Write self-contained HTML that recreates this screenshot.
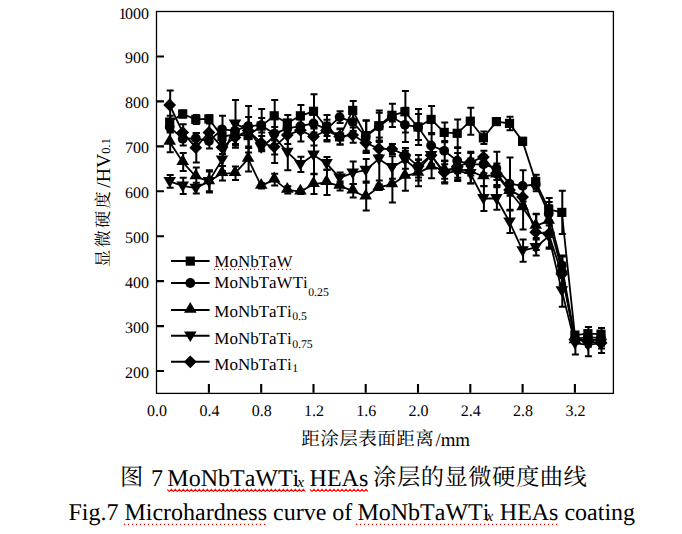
<!DOCTYPE html>
<html><head><meta charset="utf-8"><title>Fig.7</title>
<style>
html,body{margin:0;padding:0;background:#fff;}
text{font-kerning:none;font-variant-ligatures:none;text-rendering:geometricPrecision}
body{width:682px;height:534px;overflow:hidden;position:relative;font-family:"Liberation Serif",serif;}
</style></head><body>
<svg width="682" height="534" viewBox="0 0 682 534" style="display:block;position:absolute;left:0;top:0">
<rect width="682" height="534" fill="#fff"/>
<rect x="156.5" y="11.5" width="456.9" height="381.9" fill="none" stroke="#000" stroke-width="1.3"/>
<path stroke="#000" stroke-width="2.1" fill="none" d="M156.5 371.0H164M156.5 326.1H164M156.5 281.1H164M156.5 236.2H164M156.5 191.3H164M156.5 146.4H164M156.5 101.4H164M156.5 56.5H164M208.9 392.7V384M261.2 392.7V384M313.5 392.7V384M365.7 392.7V384M418.0 392.7V384M470.3 392.7V384M522.6 392.7V384M574.9 392.7V384"/>
<g font-family="'Liberation Serif', serif" font-size="16" fill="#000">
<text x="149" y="377.9" text-anchor="end">200</text>
<text x="149" y="333.0" text-anchor="end">300</text>
<text x="149" y="288.0" text-anchor="end">400</text>
<text x="149" y="243.1" text-anchor="end">500</text>
<text x="149" y="198.2" text-anchor="end">600</text>
<text x="149" y="153.3" text-anchor="end">700</text>
<text x="149" y="108.3" text-anchor="end">800</text>
<text x="149" y="63.4" text-anchor="end">900</text>
<text x="149" y="18.5" text-anchor="end">000</text><text x="126.5" y="18.5" text-anchor="end">1</text>
<text x="157.1" y="416.3" text-anchor="middle">0.0</text>
<text x="209.4" y="416.3" text-anchor="middle">0.4</text>
<text x="261.7" y="416.3" text-anchor="middle">0.8</text>
<text x="314.0" y="416.3" text-anchor="middle">1.2</text>
<text x="366.2" y="416.3" text-anchor="middle">1.6</text>
<text x="418.5" y="416.3" text-anchor="middle">2.0</text>
<text x="470.8" y="416.3" text-anchor="middle">2.4</text>
<text x="523.1" y="416.3" text-anchor="middle">2.8</text>
<text x="575.4" y="416.3" text-anchor="middle">3.2</text>
</g>
<polyline fill="none" stroke="#000" stroke-width="1.80" stroke-linejoin="round" points="169.7,122.1 182.7,114.0 195.8,119.4 208.9,118.9 222.0,136.5 235.0,134.7 248.1,135.6 261.2,126.1 274.2,115.8 287.3,123.0 300.4,115.8 313.5,111.3 326.5,127.5 339.6,136.9 352.7,110.4 365.7,135.6 378.8,125.7 391.9,115.3 404.9,111.8 418.0,127.0 431.1,119.4 444.2,132.4 457.2,133.3 470.3,121.2 483.4,137.8 496.4,121.6 509.5,123.4 522.6,141.4 535.7,181.8 548.7,209.3 561.8,212.4 574.9,335.1 587.9,333.7 601.0,334.2"/>
<path fill="none" stroke="#000" stroke-width="2.00" d="M170.2 115.8V128.4M166.7 115.8H173.7M166.7 128.4H173.7M183.2 110.4V117.6M179.7 110.4H186.7M179.7 117.6H186.7M196.3 114.9V123.9M192.8 114.9H199.8M192.8 123.9H199.8M209.4 115.3V122.5M205.9 115.3H212.9M205.9 122.5H212.9M222.5 131.1V141.9M219.0 131.1H226.0M219.0 141.9H226.0M235.5 123.9V145.5M232.0 123.9H239.0M232.0 145.5H239.0M248.6 123.0V148.1M245.1 123.0H252.1M245.1 148.1H252.1M261.7 109.1V143.2M258.2 109.1H265.2M258.2 143.2H265.2M274.7 100.1V131.5M271.2 100.1H278.2M271.2 131.5H278.2M287.8 114.9V131.1M284.3 114.9H291.3M284.3 131.1H291.3M300.9 105.0V126.6M297.4 105.0H304.4M297.4 126.6H304.4M314.0 94.2V128.4M310.5 94.2H317.5M310.5 128.4H317.5M327.0 114.9V140.1M323.5 114.9H330.5M323.5 140.1H330.5M340.1 129.3V144.6M336.6 129.3H343.6M336.6 144.6H343.6M353.2 101.0V119.8M349.7 101.0H356.7M349.7 119.8H356.7M366.2 120.3V150.8M362.7 120.3H369.7M362.7 150.8H369.7M379.3 110.4V141.0M375.8 110.4H382.8M375.8 141.0H382.8M392.4 103.7V127.0M388.9 103.7H395.9M388.9 127.0H395.9M405.4 91.1V132.4M401.9 91.1H408.9M401.9 132.4H408.9M418.5 109.1V145.0M415.0 109.1H422.0M415.0 145.0H422.0M431.6 105.9V132.9M428.1 105.9H435.1M428.1 132.9H435.1M444.7 122.5V142.3M441.2 122.5H448.2M441.2 142.3H448.2M457.7 119.4V147.2M454.2 119.4H461.2M454.2 147.2H461.2M470.8 107.7V134.7M467.3 107.7H474.3M467.3 134.7H474.3M483.9 131.5V144.1M480.4 131.5H487.4M480.4 144.1H487.4M496.9 119.4V123.9M493.4 119.4H500.4M493.4 123.9H500.4M510.0 116.7V130.2M506.5 116.7H513.5M506.5 130.2H513.5M523.1 137.8V145.0M519.6 137.8H526.6M519.6 145.0H526.6M536.2 174.7V189.0M532.7 174.7H539.7M532.7 189.0H539.7M549.2 198.0V220.5M545.7 198.0H552.7M545.7 220.5H552.7M562.3 190.8V234.0M558.8 190.8H565.8M558.8 234.0H565.8M575.4 331.9V338.2M571.9 331.9H578.9M571.9 338.2H578.9M588.4 327.0V340.4M584.9 327.0H591.9M584.9 340.4H591.9M601.5 327.9V340.4M598.0 327.9H605.0M598.0 340.4H605.0"/>
<g fill="#000"><rect x="165.1" y="117.5" width="9.2" height="9.2"/><rect x="178.1" y="109.4" width="9.2" height="9.2"/><rect x="191.2" y="114.8" width="9.2" height="9.2"/><rect x="204.3" y="114.3" width="9.2" height="9.2"/><rect x="217.4" y="131.9" width="9.2" height="9.2"/><rect x="230.4" y="130.1" width="9.2" height="9.2"/><rect x="243.5" y="131.0" width="9.2" height="9.2"/><rect x="256.6" y="121.5" width="9.2" height="9.2"/><rect x="269.6" y="111.2" width="9.2" height="9.2"/><rect x="282.7" y="118.4" width="9.2" height="9.2"/><rect x="295.8" y="111.2" width="9.2" height="9.2"/><rect x="308.9" y="106.7" width="9.2" height="9.2"/><rect x="321.9" y="122.9" width="9.2" height="9.2"/><rect x="335.0" y="132.3" width="9.2" height="9.2"/><rect x="348.1" y="105.8" width="9.2" height="9.2"/><rect x="361.1" y="131.0" width="9.2" height="9.2"/><rect x="374.2" y="121.1" width="9.2" height="9.2"/><rect x="387.3" y="110.7" width="9.2" height="9.2"/><rect x="400.3" y="107.2" width="9.2" height="9.2"/><rect x="413.4" y="122.4" width="9.2" height="9.2"/><rect x="426.5" y="114.8" width="9.2" height="9.2"/><rect x="439.6" y="127.8" width="9.2" height="9.2"/><rect x="452.6" y="128.7" width="9.2" height="9.2"/><rect x="465.7" y="116.6" width="9.2" height="9.2"/><rect x="478.8" y="133.2" width="9.2" height="9.2"/><rect x="491.8" y="117.0" width="9.2" height="9.2"/><rect x="504.9" y="118.8" width="9.2" height="9.2"/><rect x="518.0" y="136.8" width="9.2" height="9.2"/><rect x="531.1" y="177.2" width="9.2" height="9.2"/><rect x="544.1" y="204.7" width="9.2" height="9.2"/><rect x="557.2" y="207.8" width="9.2" height="9.2"/><rect x="570.3" y="330.5" width="9.2" height="9.2"/><rect x="583.3" y="329.1" width="9.2" height="9.2"/><rect x="596.4" y="329.6" width="9.2" height="9.2"/></g>
<polyline fill="none" stroke="#000" stroke-width="1.80" stroke-linejoin="round" points="169.7,127.0 182.7,138.7 195.8,138.3 208.9,141.0 222.0,129.3 235.0,130.6 248.1,126.1 261.2,125.2 274.2,133.8 287.3,128.4 300.4,126.1 313.5,123.4 326.5,129.3 339.6,117.1 352.7,122.1 365.7,136.5 378.8,126.6 391.9,117.1 404.9,124.8 418.0,127.0 431.1,145.5 444.2,150.8 457.2,160.7 470.3,164.3 483.4,164.3 496.4,168.4 509.5,183.6 522.6,185.9 535.7,184.5 548.7,213.7 561.8,265.4 574.9,338.7 587.9,337.3 601.0,337.8"/>
<path fill="none" stroke="#000" stroke-width="2.00" d="M170.2 121.6V132.4M166.7 121.6H173.7M166.7 132.4H173.7M183.2 132.0V145.5M179.7 132.0H186.7M179.7 145.5H186.7M196.3 132.9V143.7M192.8 132.9H199.8M192.8 143.7H199.8M209.4 133.3V148.6M205.9 133.3H212.9M205.9 148.6H212.9M222.5 115.8V142.8M219.0 115.8H226.0M219.0 142.8H226.0M235.5 123.9V137.4M232.0 123.9H239.0M232.0 137.4H239.0M248.6 117.1V135.1M245.1 117.1H252.1M245.1 135.1H252.1M261.7 118.0V132.4M258.2 118.0H265.2M258.2 132.4H265.2M274.7 127.0V140.5M271.2 127.0H278.2M271.2 140.5H278.2M287.8 121.6V135.1M284.3 121.6H291.3M284.3 135.1H291.3M300.9 119.4V132.9M297.4 119.4H304.4M297.4 132.9H304.4M314.0 114.4V132.4M310.5 114.4H317.5M310.5 132.4H317.5M327.0 122.5V136.0M323.5 122.5H330.5M323.5 136.0H330.5M340.1 111.3V123.0M336.6 111.3H343.6M336.6 123.0H343.6M353.2 113.1V131.1M349.7 113.1H356.7M349.7 131.1H356.7M366.2 120.7V152.2M362.7 120.7H369.7M362.7 152.2H369.7M379.3 112.7V140.5M375.8 112.7H382.8M375.8 140.5H382.8M392.4 112.7V121.6M388.9 112.7H395.9M388.9 121.6H395.9M405.4 107.7V141.9M401.9 107.7H408.9M401.9 141.9H408.9M418.5 114.0V140.1M415.0 114.0H422.0M415.0 140.1H422.0M431.6 134.2V156.7M428.1 134.2H435.1M428.1 156.7H435.1M444.7 141.0V160.7M441.2 141.0H448.2M441.2 160.7H448.2M457.7 148.1V173.3M454.2 148.1H461.2M454.2 173.3H461.2M470.8 153.1V175.6M467.3 153.1H474.3M467.3 175.6H474.3M483.9 155.3V173.3M480.4 155.3H487.4M480.4 173.3H487.4M496.9 151.7V185.0M493.4 151.7H500.4M493.4 185.0H500.4M510.0 157.6V209.7M506.5 157.6H513.5M506.5 209.7H513.5M523.1 170.2V201.6M519.6 170.2H526.6M519.6 201.6H526.6M536.2 177.8V191.3M532.7 177.8H539.7M532.7 191.3H539.7M549.2 202.1V225.4M545.7 202.1H552.7M545.7 225.4H552.7M562.3 255.5V275.3M558.8 255.5H565.8M558.8 275.3H565.8M575.4 335.5V341.8M571.9 335.5H578.9M571.9 341.8H578.9M588.4 331.9V342.7M584.9 331.9H591.9M584.9 342.7H591.9M601.5 332.4V343.1M598.0 332.4H605.0M598.0 343.1H605.0"/>
<g fill="#000"><circle cx="169.7" cy="127.0" r="4.9"/><circle cx="182.7" cy="138.7" r="4.9"/><circle cx="195.8" cy="138.3" r="4.9"/><circle cx="208.9" cy="141.0" r="4.9"/><circle cx="222.0" cy="129.3" r="4.9"/><circle cx="235.0" cy="130.6" r="4.9"/><circle cx="248.1" cy="126.1" r="4.9"/><circle cx="261.2" cy="125.2" r="4.9"/><circle cx="274.2" cy="133.8" r="4.9"/><circle cx="287.3" cy="128.4" r="4.9"/><circle cx="300.4" cy="126.1" r="4.9"/><circle cx="313.5" cy="123.4" r="4.9"/><circle cx="326.5" cy="129.3" r="4.9"/><circle cx="339.6" cy="117.1" r="4.9"/><circle cx="352.7" cy="122.1" r="4.9"/><circle cx="365.7" cy="136.5" r="4.9"/><circle cx="378.8" cy="126.6" r="4.9"/><circle cx="391.9" cy="117.1" r="4.9"/><circle cx="404.9" cy="124.8" r="4.9"/><circle cx="418.0" cy="127.0" r="4.9"/><circle cx="431.1" cy="145.5" r="4.9"/><circle cx="444.2" cy="150.8" r="4.9"/><circle cx="457.2" cy="160.7" r="4.9"/><circle cx="470.3" cy="164.3" r="4.9"/><circle cx="483.4" cy="164.3" r="4.9"/><circle cx="496.4" cy="168.4" r="4.9"/><circle cx="509.5" cy="183.6" r="4.9"/><circle cx="522.6" cy="185.9" r="4.9"/><circle cx="535.7" cy="184.5" r="4.9"/><circle cx="548.7" cy="213.7" r="4.9"/><circle cx="561.8" cy="265.4" r="4.9"/><circle cx="574.9" cy="338.7" r="4.9"/><circle cx="587.9" cy="337.3" r="4.9"/><circle cx="601.0" cy="337.8" r="4.9"/></g>
<polyline fill="none" stroke="#000" stroke-width="1.80" stroke-linejoin="round" points="169.7,141.9 182.7,162.1 195.8,176.5 208.9,181.4 222.0,173.3 235.0,173.3 248.1,158.9 261.2,185.9 274.2,179.6 287.3,189.9 300.4,191.7 313.5,184.1 326.5,182.3 339.6,185.9 352.7,190.8 365.7,196.7 378.8,187.2 391.9,184.5 404.9,176.0 418.0,172.9 431.1,166.6 444.2,169.7 457.2,168.8 470.3,171.1 483.4,176.5 496.4,174.7 509.5,191.3 522.6,207.5 535.7,225.9 548.7,220.9 561.8,269.9 574.9,340.4 587.9,339.5 601.0,340.4"/>
<path fill="none" stroke="#000" stroke-width="2.00" d="M170.2 131.5V152.2M166.7 131.5H173.7M166.7 152.2H173.7M183.2 153.1V171.1M179.7 153.1H186.7M179.7 171.1H186.7M196.3 167.5V185.4M192.8 167.5H199.8M192.8 185.4H199.8M209.4 170.2V192.6M205.9 170.2H212.9M205.9 192.6H212.9M222.5 166.1V180.5M219.0 166.1H226.0M219.0 180.5H226.0M235.5 166.6V180.0M232.0 166.6H239.0M232.0 180.0H239.0M248.6 146.4V171.5M245.1 146.4H252.1M245.1 171.5H252.1M261.7 183.2V188.6M258.2 183.2H265.2M258.2 188.6H265.2M274.7 173.8V185.4M271.2 173.8H278.2M271.2 185.4H278.2M287.8 186.3V193.5M284.3 186.3H291.3M284.3 193.5H291.3M300.9 189.5V194.0M297.4 189.5H304.4M297.4 194.0H304.4M314.0 174.2V194.0M310.5 174.2H317.5M310.5 194.0H317.5M327.0 169.7V194.9M323.5 169.7H330.5M323.5 194.9H330.5M340.1 181.4V190.4M336.6 181.4H343.6M336.6 190.4H343.6M353.2 184.1V197.6M349.7 184.1H356.7M349.7 197.6H356.7M366.2 182.7V210.6M362.7 182.7H369.7M362.7 210.6H369.7M379.3 184.5V189.9M375.8 184.5H382.8M375.8 189.9H382.8M392.4 166.6V202.5M388.9 166.6H395.9M388.9 202.5H395.9M405.4 161.2V190.8M401.9 161.2H408.9M401.9 190.8H408.9M418.5 159.4V186.3M415.0 159.4H422.0M415.0 186.3H422.0M431.6 154.9V178.3M428.1 154.9H435.1M428.1 178.3H435.1M444.7 160.7V178.7M441.2 160.7H448.2M441.2 178.7H448.2M457.7 159.8V177.8M454.2 159.8H461.2M454.2 177.8H461.2M470.8 158.5V183.6M467.3 158.5H474.3M467.3 183.6H474.3M483.9 166.6V186.3M480.4 166.6H487.4M480.4 186.3H487.4M496.9 163.4V185.9M493.4 163.4H500.4M493.4 185.9H500.4M510.0 186.8V195.8M506.5 186.8H513.5M506.5 195.8H513.5M523.1 185.4V229.5M519.6 185.4H526.6M519.6 229.5H526.6M536.2 213.7V238.0M532.7 213.7H539.7M532.7 238.0H539.7M549.2 205.2V236.7M545.7 205.2H552.7M545.7 236.7H552.7M562.3 256.4V283.4M558.8 256.4H565.8M558.8 283.4H565.8M575.4 337.3V343.6M571.9 337.3H578.9M571.9 343.6H578.9M588.4 334.2V344.9M584.9 334.2H591.9M584.9 344.9H591.9M601.5 335.1V345.8M598.0 335.1H605.0M598.0 345.8H605.0"/>
<g fill="#000"><path d="M163.4 144.7L176.0 144.7L169.7 133.9Z"/><path d="M176.4 164.9L189.0 164.9L182.7 154.1Z"/><path d="M189.5 179.3L202.1 179.3L195.8 168.5Z"/><path d="M202.6 184.2L215.2 184.2L208.9 173.4Z"/><path d="M215.7 176.1L228.3 176.1L222.0 165.3Z"/><path d="M228.7 176.1L241.3 176.1L235.0 165.3Z"/><path d="M241.8 161.7L254.4 161.7L248.1 150.9Z"/><path d="M254.9 188.7L267.5 188.7L261.2 177.9Z"/><path d="M267.9 182.4L280.5 182.4L274.2 171.6Z"/><path d="M281.0 192.7L293.6 192.7L287.3 181.9Z"/><path d="M294.1 194.5L306.7 194.5L300.4 183.7Z"/><path d="M307.2 186.9L319.8 186.9L313.5 176.1Z"/><path d="M320.2 185.1L332.8 185.1L326.5 174.3Z"/><path d="M333.3 188.7L345.9 188.7L339.6 177.9Z"/><path d="M346.4 193.6L359.0 193.6L352.7 182.8Z"/><path d="M359.4 199.5L372.0 199.5L365.7 188.7Z"/><path d="M372.5 190.0L385.1 190.0L378.8 179.2Z"/><path d="M385.6 187.3L398.2 187.3L391.9 176.5Z"/><path d="M398.6 178.8L411.2 178.8L404.9 168.0Z"/><path d="M411.7 175.7L424.3 175.7L418.0 164.9Z"/><path d="M424.8 169.4L437.4 169.4L431.1 158.6Z"/><path d="M437.9 172.5L450.5 172.5L444.2 161.7Z"/><path d="M450.9 171.6L463.5 171.6L457.2 160.8Z"/><path d="M464.0 173.9L476.6 173.9L470.3 163.1Z"/><path d="M477.1 179.3L489.7 179.3L483.4 168.5Z"/><path d="M490.1 177.5L502.7 177.5L496.4 166.7Z"/><path d="M503.2 194.1L515.8 194.1L509.5 183.3Z"/><path d="M516.3 210.3L528.9 210.3L522.6 199.5Z"/><path d="M529.4 228.7L542.0 228.7L535.7 217.9Z"/><path d="M542.4 223.7L555.0 223.7L548.7 212.9Z"/><path d="M555.5 272.7L568.1 272.7L561.8 261.9Z"/><path d="M568.6 343.2L581.2 343.2L574.9 332.4Z"/><path d="M581.6 342.3L594.2 342.3L587.9 331.5Z"/><path d="M594.7 343.2L607.3 343.2L601.0 332.4Z"/></g>
<polyline fill="none" stroke="#000" stroke-width="1.80" stroke-linejoin="round" points="169.7,181.4 182.7,185.9 195.8,188.1 208.9,181.4 222.0,159.8 235.0,123.9 248.1,129.3 261.2,147.7 274.2,136.5 287.3,152.2 300.4,164.3 313.5,154.9 326.5,163.4 339.6,177.8 352.7,172.9 365.7,170.2 378.8,158.9 391.9,167.5 404.9,159.8 418.0,170.2 431.1,155.3 444.2,173.3 457.2,171.1 470.3,173.3 483.4,198.5 496.4,198.5 509.5,221.8 522.6,250.6 535.7,247.4 548.7,236.2 561.8,290.6 574.9,343.1 587.9,344.9 601.0,343.1"/>
<path fill="none" stroke="#000" stroke-width="2.00" d="M170.2 175.1V187.7M166.7 175.1H173.7M166.7 187.7H173.7M183.2 177.8V194.0M179.7 177.8H186.7M179.7 194.0H186.7M196.3 182.7V193.5M192.8 182.7H199.8M192.8 193.5H199.8M209.4 171.5V191.3M205.9 171.5H212.9M205.9 191.3H212.9M222.5 148.6V171.1M219.0 148.6H226.0M219.0 171.1H226.0M235.5 100.1V147.7M232.0 100.1H239.0M232.0 147.7H239.0M248.6 105.9V152.6M245.1 105.9H252.1M245.1 152.6H252.1M261.7 144.1V151.3M258.2 144.1H265.2M258.2 151.3H265.2M274.7 118.5V154.4M271.2 118.5H278.2M271.2 154.4H278.2M287.8 134.2V170.2M284.3 134.2H291.3M284.3 170.2H291.3M300.9 156.7V172.0M297.4 156.7H304.4M297.4 172.0H304.4M314.0 136.0V173.8M310.5 136.0H317.5M310.5 173.8H317.5M327.0 157.1V169.7M323.5 157.1H330.5M323.5 169.7H330.5M340.1 172.4V183.2M336.6 172.4H343.6M336.6 183.2H343.6M353.2 161.6V184.1M349.7 161.6H356.7M349.7 184.1H356.7M366.2 158.9V181.4M362.7 158.9H369.7M362.7 181.4H369.7M379.3 137.4V180.5M375.8 137.4H382.8M375.8 180.5H382.8M392.4 156.2V178.7M388.9 156.2H395.9M388.9 178.7H395.9M405.4 150.8V168.8M401.9 150.8H408.9M401.9 168.8H408.9M418.5 159.8V180.5M415.0 159.8H422.0M415.0 180.5H422.0M431.6 144.1V166.6M428.1 144.1H435.1M428.1 166.6H435.1M444.7 164.3V182.3M441.2 164.3H448.2M441.2 182.3H448.2M457.7 161.2V180.9M454.2 161.2H461.2M454.2 180.9H461.2M470.8 163.4V183.2M467.3 163.4H474.3M467.3 183.2H474.3M483.9 185.9V211.0M480.4 185.9H487.4M480.4 211.0H487.4M496.9 187.2V209.7M493.4 187.2H500.4M493.4 209.7H500.4M510.0 210.6V233.1M506.5 210.6H513.5M506.5 233.1H513.5M523.1 239.4V261.8M519.6 239.4H526.6M519.6 261.8H526.6M536.2 239.4V255.5M532.7 239.4H539.7M532.7 255.5H539.7M549.2 223.6V248.8M545.7 223.6H552.7M545.7 248.8H552.7M562.3 274.4V306.8M558.8 274.4H565.8M558.8 306.8H565.8M575.4 331.9V354.4M571.9 331.9H578.9M571.9 354.4H578.9M588.4 333.7V356.2M584.9 333.7H591.9M584.9 356.2H591.9M601.5 333.3V353.0M598.0 333.3H605.0M598.0 353.0H605.0"/>
<g fill="#000"><path d="M163.4 177.0L176.0 177.0L169.7 187.7Z"/><path d="M176.4 181.5L189.0 181.5L182.7 192.2Z"/><path d="M189.5 183.7L202.1 183.7L195.8 194.4Z"/><path d="M202.6 177.0L215.2 177.0L208.9 187.7Z"/><path d="M215.7 155.4L228.3 155.4L222.0 166.1Z"/><path d="M228.7 119.5L241.3 119.5L235.0 130.2Z"/><path d="M241.8 124.9L254.4 124.9L248.1 135.6Z"/><path d="M254.9 143.3L267.5 143.3L261.2 154.0Z"/><path d="M267.9 132.1L280.5 132.1L274.2 142.8Z"/><path d="M281.0 147.8L293.6 147.8L287.3 158.5Z"/><path d="M294.1 159.9L306.7 159.9L300.4 170.6Z"/><path d="M307.2 150.5L319.8 150.5L313.5 161.2Z"/><path d="M320.2 159.0L332.8 159.0L326.5 169.7Z"/><path d="M333.3 173.4L345.9 173.4L339.6 184.1Z"/><path d="M346.4 168.5L359.0 168.5L352.7 179.2Z"/><path d="M359.4 165.8L372.0 165.8L365.7 176.5Z"/><path d="M372.5 154.5L385.1 154.5L378.8 165.2Z"/><path d="M385.6 163.1L398.2 163.1L391.9 173.8Z"/><path d="M398.6 155.4L411.2 155.4L404.9 166.1Z"/><path d="M411.7 165.8L424.3 165.8L418.0 176.5Z"/><path d="M424.8 150.9L437.4 150.9L431.1 161.6Z"/><path d="M437.9 168.9L450.5 168.9L444.2 179.6Z"/><path d="M450.9 166.7L463.5 166.7L457.2 177.4Z"/><path d="M464.0 168.9L476.6 168.9L470.3 179.6Z"/><path d="M477.1 194.1L489.7 194.1L483.4 204.8Z"/><path d="M490.1 194.1L502.7 194.1L496.4 204.8Z"/><path d="M503.2 217.4L515.8 217.4L509.5 228.1Z"/><path d="M516.3 246.2L528.9 246.2L522.6 256.9Z"/><path d="M529.4 243.0L542.0 243.0L535.7 253.7Z"/><path d="M542.4 231.8L555.0 231.8L548.7 242.5Z"/><path d="M555.5 286.2L568.1 286.2L561.8 296.9Z"/><path d="M568.6 338.7L581.2 338.7L574.9 349.4Z"/><path d="M581.6 340.5L594.2 340.5L587.9 351.2Z"/><path d="M594.7 338.7L607.3 338.7L601.0 349.4Z"/></g>
<polyline fill="none" stroke="#000" stroke-width="1.80" stroke-linejoin="round" points="169.7,105.0 182.7,132.4 195.8,147.7 208.9,132.4 222.0,147.2 235.0,137.4 248.1,130.6 261.2,142.8 274.2,146.8 287.3,135.1 300.4,130.2 313.5,136.5 326.5,130.6 339.6,136.5 352.7,135.1 365.7,142.8 378.8,148.6 391.9,149.0 404.9,154.9 418.0,166.1 431.1,155.3 444.2,172.4 457.2,166.6 470.3,162.1 483.4,157.1 496.4,173.3 509.5,189.9 522.6,197.1 535.7,232.2 548.7,234.0 561.8,274.0 574.9,339.5 587.9,341.3 601.0,343.1"/>
<path fill="none" stroke="#000" stroke-width="2.00" d="M170.2 90.6V119.4M166.7 90.6H173.7M166.7 119.4H173.7M183.2 124.3V140.5M179.7 124.3H186.7M179.7 140.5H186.7M196.3 132.9V162.5M192.8 132.9H199.8M192.8 162.5H199.8M209.4 123.4V141.4M205.9 123.4H212.9M205.9 141.4H212.9M222.5 140.5V154.0M219.0 140.5H226.0M219.0 154.0H226.0M235.5 130.6V144.1M232.0 130.6H239.0M232.0 144.1H239.0M248.6 123.9V137.4M245.1 123.9H252.1M245.1 137.4H252.1M261.7 136.0V149.5M258.2 136.0H265.2M258.2 149.5H265.2M274.7 130.6V163.0M271.2 130.6H278.2M271.2 163.0H278.2M287.8 126.1V144.1M284.3 126.1H291.3M284.3 144.1H291.3M300.9 118.9V141.4M297.4 118.9H304.4M297.4 141.4H304.4M314.0 127.5V145.5M310.5 127.5H317.5M310.5 145.5H317.5M327.0 119.8V141.4M323.5 119.8H330.5M323.5 141.4H330.5M340.1 128.4V144.6M336.6 128.4H343.6M336.6 144.6H343.6M353.2 127.5V142.8M349.7 127.5H356.7M349.7 142.8H356.7M366.2 132.4V153.1M362.7 132.4H369.7M362.7 153.1H369.7M379.3 141.9V155.3M375.8 141.9H382.8M375.8 155.3H382.8M392.4 144.1V154.0M388.9 144.1H395.9M388.9 154.0H395.9M405.4 148.1V161.6M401.9 148.1H408.9M401.9 161.6H408.9M418.5 154.9V177.4M415.0 154.9H422.0M415.0 177.4H422.0M431.6 146.4V164.3M428.1 146.4H435.1M428.1 164.3H435.1M444.7 161.2V183.6M441.2 161.2H448.2M441.2 183.6H448.2M457.7 153.1V180.0M454.2 153.1H461.2M454.2 180.0H461.2M470.8 151.7V172.4M467.3 151.7H474.3M467.3 172.4H474.3M483.9 150.8V163.4M480.4 150.8H487.4M480.4 163.4H487.4M496.9 166.6V180.0M493.4 166.6H500.4M493.4 180.0H500.4M510.0 186.3V193.5M506.5 186.3H513.5M506.5 193.5H513.5M523.1 188.1V206.1M519.6 188.1H526.6M519.6 206.1H526.6M536.2 214.2V250.1M532.7 214.2H539.7M532.7 250.1H539.7M549.2 220.5V247.4M545.7 220.5H552.7M545.7 247.4H552.7M562.3 262.7V285.2M558.8 262.7H565.8M558.8 285.2H565.8M575.4 336.4V342.7M571.9 336.4H578.9M571.9 342.7H578.9M588.4 336.0V346.7M584.9 336.0H591.9M584.9 346.7H591.9M601.5 337.8V348.5M598.0 337.8H605.0M598.0 348.5H605.0"/>
<g fill="#000"><path d="M163.3 105.0L169.7 98.6L176.1 105.0L169.7 111.4Z"/><path d="M176.3 132.4L182.7 126.0L189.1 132.4L182.7 138.8Z"/><path d="M189.4 147.7L195.8 141.3L202.2 147.7L195.8 154.1Z"/><path d="M202.5 132.4L208.9 126.0L215.3 132.4L208.9 138.8Z"/><path d="M215.6 147.2L222.0 140.8L228.4 147.2L222.0 153.6Z"/><path d="M228.6 137.4L235.0 131.0L241.4 137.4L235.0 143.8Z"/><path d="M241.7 130.6L248.1 124.2L254.5 130.6L248.1 137.0Z"/><path d="M254.8 142.8L261.2 136.4L267.6 142.8L261.2 149.2Z"/><path d="M267.8 146.8L274.2 140.4L280.6 146.8L274.2 153.2Z"/><path d="M280.9 135.1L287.3 128.7L293.7 135.1L287.3 141.5Z"/><path d="M294.0 130.2L300.4 123.8L306.8 130.2L300.4 136.6Z"/><path d="M307.1 136.5L313.5 130.1L319.9 136.5L313.5 142.9Z"/><path d="M320.1 130.6L326.5 124.2L332.9 130.6L326.5 137.0Z"/><path d="M333.2 136.5L339.6 130.1L346.0 136.5L339.6 142.9Z"/><path d="M346.3 135.1L352.7 128.7L359.1 135.1L352.7 141.5Z"/><path d="M359.3 142.8L365.7 136.4L372.1 142.8L365.7 149.2Z"/><path d="M372.4 148.6L378.8 142.2L385.2 148.6L378.8 155.0Z"/><path d="M385.5 149.0L391.9 142.6L398.3 149.0L391.9 155.4Z"/><path d="M398.5 154.9L404.9 148.5L411.3 154.9L404.9 161.3Z"/><path d="M411.6 166.1L418.0 159.7L424.4 166.1L418.0 172.5Z"/><path d="M424.7 155.3L431.1 148.9L437.5 155.3L431.1 161.7Z"/><path d="M437.8 172.4L444.2 166.0L450.6 172.4L444.2 178.8Z"/><path d="M450.8 166.6L457.2 160.2L463.6 166.6L457.2 173.0Z"/><path d="M463.9 162.1L470.3 155.7L476.7 162.1L470.3 168.5Z"/><path d="M477.0 157.1L483.4 150.7L489.8 157.1L483.4 163.5Z"/><path d="M490.0 173.3L496.4 166.9L502.8 173.3L496.4 179.7Z"/><path d="M503.1 189.9L509.5 183.5L515.9 189.9L509.5 196.3Z"/><path d="M516.2 197.1L522.6 190.7L529.0 197.1L522.6 203.5Z"/><path d="M529.3 232.2L535.7 225.8L542.1 232.2L535.7 238.6Z"/><path d="M542.3 234.0L548.7 227.6L555.1 234.0L548.7 240.4Z"/><path d="M555.4 274.0L561.8 267.6L568.2 274.0L561.8 280.4Z"/><path d="M568.5 339.5L574.9 333.1L581.3 339.5L574.9 345.9Z"/><path d="M581.5 341.3L587.9 334.9L594.3 341.3L587.9 347.7Z"/><path d="M594.6 343.1L601.0 336.7L607.4 343.1L601.0 349.5Z"/></g>
<path d="M171 261.1H209.6" stroke="#000" stroke-width="2" fill="none"/>
<g fill="#000"><rect x="185.7" y="256.5" width="9.2" height="9.2"/></g>
<text x="214.3" y="267.0" font-family="'Liberation Serif', serif" font-size="17" fill="#000">MoNbTaW</text>
<path d="M171 283.0H209.6" stroke="#000" stroke-width="2" fill="none"/>
<g fill="#000"><circle cx="190.3" cy="283.0" r="4.9"/></g>
<text x="214.3" y="288.1" font-family="'Liberation Serif', serif" font-size="17" fill="#000">MoNbTaWTi<tspan font-size="11.8" dy="7.6" dx="0.4">0.25</tspan></text>
<path d="M171 310.0H209.6" stroke="#000" stroke-width="2" fill="none"/>
<g fill="#000"><path d="M184.0 312.8L196.6 312.8L190.3 302.0Z"/></g>
<text x="214.3" y="316.9" font-family="'Liberation Serif', serif" font-size="17" fill="#000">MoNbTaTi<tspan font-size="11.8" dy="2.6" dx="0.4">0.5</tspan></text>
<path d="M171 335.8H209.6" stroke="#000" stroke-width="2" fill="none"/>
<g fill="#000"><path d="M184.0 331.4L196.6 331.4L190.3 342.1Z"/></g>
<text x="214.3" y="343.8" font-family="'Liberation Serif', serif" font-size="17" fill="#000">MoNbTaTi<tspan font-size="11.8" dy="3.7" dx="0.4">0.75</tspan></text>
<path d="M171 361.8H209.6" stroke="#000" stroke-width="2" fill="none"/>
<g fill="#000"><path d="M183.9 361.8L190.3 355.4L196.7 361.8L190.3 368.2Z"/></g>
<text x="214.3" y="369.5" font-family="'Liberation Serif', serif" font-size="17" fill="#000">MoNbTaTi<tspan font-size="11.8" dy="2.4" dx="0.4">1</tspan></text>
<text x="301.2" y="445.4" font-family="'Liberation Serif', 'Noto Serif CJK SC', serif" font-size="18.6" fill="#000" textLength="132.6" lengthAdjust="spacing">距涂层表面距离</text>
<text x="435.4" y="445.8" font-family="'Liberation Serif', serif" font-size="18.9" fill="#000">/mm</text>
<text transform="translate(108.5 267.0) rotate(-90)" font-family="'Liberation Serif', 'Noto Serif CJK SC', serif" font-size="17.3" fill="#000" textLength="75.8" lengthAdjust="spacing">显微硬度</text>
<text transform="translate(110.4 187.8) rotate(-90)" font-family="'Liberation Serif', serif" font-size="19.8" fill="#000">/HV<tspan font-size="12.5">0.1</tspan></text>
<text x="119.9" y="485.3" font-family="'Liberation Serif', 'Noto Serif CJK SC', serif" font-size="23.3" fill="#000">图</text>
<text x="151" y="485.6" font-family="'Liberation Serif', serif" font-size="24" fill="#000">7</text>
<text x="167.3" y="485.6" font-family="'Liberation Serif', serif" font-size="24" fill="#000">MoNbTaWTi</text>
<text x="297.2" y="486.6" font-family="'Liberation Serif', serif" font-size="24" fill="#000" style="font-size:15px;font-style:italic">x</text>
<text x="309.6" y="485.6" font-family="'Liberation Serif', serif" font-size="24" fill="#000">HEAs</text>
<text x="373.1" y="485.3" font-family="'Liberation Serif', 'Noto Serif CJK SC', serif" font-size="23.3" fill="#000" textLength="213.7" lengthAdjust="spacing">涂层的显微硬度曲线</text>
<text x="68.4" y="520.3" font-family="'Liberation Serif', serif" font-size="24" fill="#000">Fig.7 Microhardness curve of</text>
<text x="357.4" y="520.3" font-family="'Liberation Serif', serif" font-size="24" fill="#000">MoNbTaWTi</text>
<text x="486.5" y="521.3" font-family="'Liberation Serif', serif" font-size="24" fill="#000" style="font-size:15px;font-style:italic">x</text>
<text x="499.8" y="520.3" font-family="'Liberation Serif', serif" font-size="24" fill="#000">HEAs coating</text>
<path d="M167.3 489.3L169.3 491.5L171.3 489.3L173.3 491.5L175.3 489.3L177.3 491.5L179.3 489.3L181.3 491.5L183.3 489.3L185.3 491.5L187.3 489.3L189.3 491.5L191.3 489.3L193.3 491.5L195.3 489.3L197.3 491.5L199.3 489.3L201.3 491.5L203.3 489.3L205.3 491.5L207.3 489.3L209.3 491.5L211.3 489.3L213.3 491.5L215.3 489.3L217.3 491.5L219.3 489.3L221.3 491.5L223.3 489.3L225.3 491.5L227.3 489.3L229.3 491.5L231.3 489.3L233.3 491.5L235.3 489.3L237.3 491.5L239.3 489.3L241.3 491.5L243.3 489.3L245.3 491.5L247.3 489.3L249.3 491.5L251.3 489.3L253.3 491.5L255.3 489.3L257.3 491.5L259.3 489.3L261.3 491.5L263.3 489.3L265.3 491.5L267.3 489.3L269.3 491.5L271.3 489.3L273.3 491.5L275.3 489.3L277.3 491.5L279.3 489.3L281.3 491.5L283.3 489.3L285.3 491.5L287.3 489.3L289.3 491.5L291.3 489.3L293.3 491.5L295.3 489.3L297.3 491.5L299.3 489.3L301.3 491.5L303.3 489.3L305.3 491.5" stroke="#ff0000" stroke-width="1.1" fill="none" stroke-linejoin="miter"/>
<path d="M310.0 489.3L312.0 491.5L314.0 489.3L316.0 491.5L318.0 489.3L320.0 491.5L322.0 489.3L324.0 491.5L326.0 489.3L328.0 491.5L330.0 489.3L332.0 491.5L334.0 489.3L336.0 491.5L338.0 489.3L340.0 491.5L342.0 489.3L344.0 491.5L346.0 489.3L348.0 491.5L350.0 489.3L352.0 491.5L354.0 489.3L356.0 491.5L358.0 489.3L360.0 491.5L362.0 489.3L364.0 491.5L366.0 489.3L368.0 491.5" stroke="#ff0000" stroke-width="1.1" fill="none" stroke-linejoin="miter"/>
<path d="M123.9 524.4H266" stroke="#ff0000" stroke-width="1.3" stroke-dasharray="1.2 2.8" fill="none"/>
<path d="M355.9 524.4H560" stroke="#ff0000" stroke-width="1.3" stroke-dasharray="1.2 2.8" fill="none"/>
<path d="M213.9 269.4H292.5" stroke="#ff0000" stroke-width="1.3" stroke-dasharray="1.2 2.8" fill="none"/>
</svg>
</body></html>
